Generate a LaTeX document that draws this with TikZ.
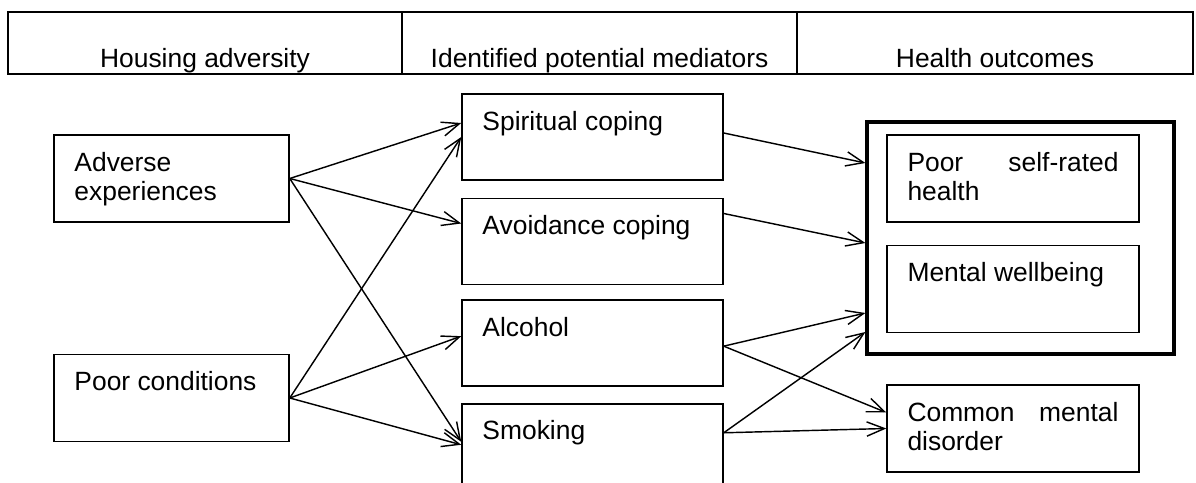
\documentclass[tikz,border=0pt]{standalone}
\usepackage{fontspec}
\setmainfont{Liberation Sans}
\usepackage{tikz}
\usetikzlibrary{arrows.meta,positioning,calc}
\hyphenpenalty=10000
\exhyphenpenalty=10000

\tikzset{
  headcell/.style={
    rectangle, draw, line width=1pt, outer sep=0pt,
    minimum width=#1, inner ysep=0pt,
    text height=25pt, text depth=3.2pt, align=center
  },
  headcell/.default=179.5pt,
  itembox/.style={
    rectangle, draw, line width=0.7pt,
    text width=#1, inner xsep=9.3pt, inner ysep=0pt,
    text height=16.4pt, text depth=23.1pt, align=justify
  },
  itembox/.default=95.9pt,
  groupbox/.style={
    rectangle, draw, line width=1.5pt,
    minimum width=139.5pt, minimum height=105.4pt
  },
  causal/.style={
    -{Straight Barb[length=8pt,width=6.5pt]}, line width=0.65pt
  },
}

\begin{document}
\begin{tikzpicture}[x=0.4545pt, y=-0.4545pt, font=\fontsize{12}{13.2}\selectfont]
\useasboundingbox (0,0) rectangle (1196,483);

% Header row
\node[headcell=179.1pt, anchor=north west] (hadv) at (8,12) {Housing adversity};
\node[headcell=179.5pt, right=0pt of hadv] (hmed) {Identified potential mediators};
\node[headcell=180pt, right=0pt of hmed] (hout) {Health outcomes};

% Housing adversity
\node[itembox=88.2pt] (adv) at (171.5,178.5) {Adverse experiences};
\node[itembox=88.2pt] (poor) at (171.5,398) {Poor conditions};

% Mediators
\node[itembox=100pt, text depth=22.7pt] (spir) at (592.5,137) {Spiritual coping};
\node[itembox=100pt, text depth=22.7pt, below=7.7pt of spir] (avoid) {Avoidance coping};
\node[itembox=100pt, text depth=22.7pt, below=6.4pt of avoid] (alc) {Alcohol};
\node[itembox=100pt, text depth=22.7pt, below=7.3pt of alc] (smok) {Smoking};

% Health outcomes
\node[groupbox] (health) at (1020.5,238) {};
\node[itembox] (srh) at (1013,178.5) {Poor self-rated health};
\node[itembox, below=10pt of srh] (mwb) {Mental wellbeing};
\node[itembox] (cmd) at (1013,428.5) {Common mental disorder};

% Adversity to mediators
\draw[causal] (adv.east) -- ($(spir.west)+(0,-14)$);
\draw[causal] (adv.east) -- ($(avoid.west)+(0,-18)$);
\draw[causal] (adv.east) -- ($(smok.west)+(0,-5)$);
\draw[causal] (poor.east) -- (spir.west);
\draw[causal] (poor.east) -- ($(alc.west)+(0,-7)$);
\draw[causal] (poor.east) -- ($(smok.west)+(0,-2)$);

% Mediators to outcomes
\draw[causal] ($(spir.east)+(0,-4)$) -- ($(health.west)+(0,-75)$);
\draw[causal] ($(avoid.east)+(0,-28)$) -- ($(health.west)+(0,5)$);
\draw[causal] ($(alc.east)+(0,3)$) -- ($(health.west)+(0,75)$);
\draw[causal] ($(alc.east)+(0,3)$) -- ($(cmd.west)+(0,-16)$);
\draw[causal] ($(smok.east)+(0,-14)$) -- ($(health.west)+(0,94)$);
\draw[causal] ($(smok.east)+(0,-14)$) -- (cmd.west);

\end{tikzpicture}
\end{document}
